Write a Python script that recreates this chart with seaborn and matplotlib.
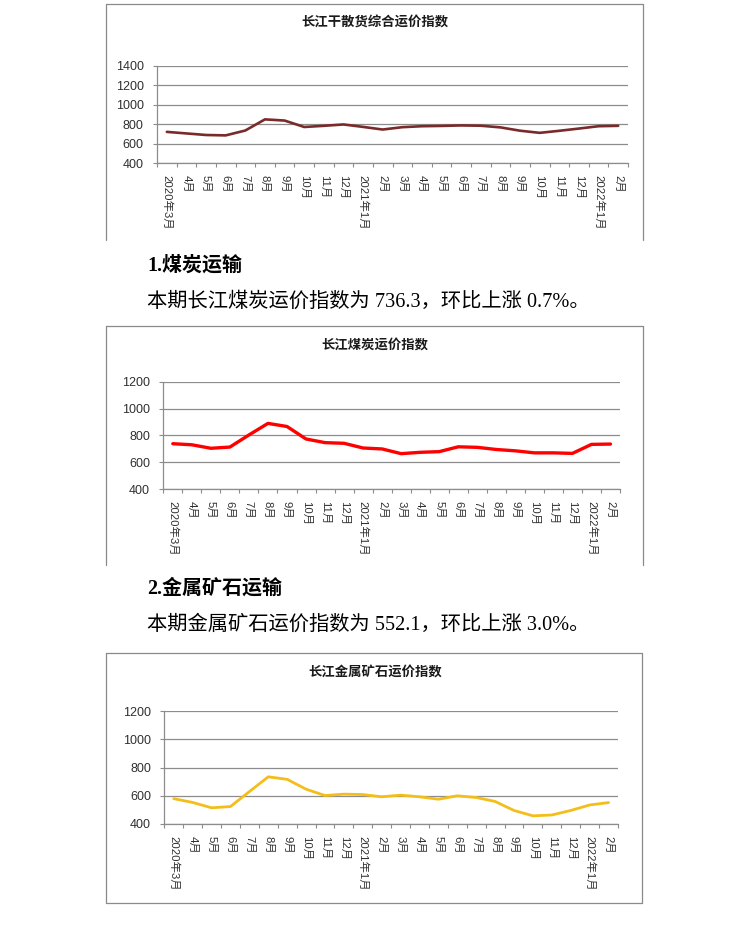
import matplotlib
matplotlib.use("Agg")
import matplotlib.pyplot as plt
import seaborn as sns
import pandas as pd
from matplotlib.lines import Line2D

# ---------------- data ----------------
months = ["2020年3月", "4月", "5月", "6月", "7月", "8月", "9月", "10月", "11月", "12月",
          "2021年1月", "2月", "3月", "4月", "5月", "6月", "7月", "8月", "9月", "10月",
          "11月", "12月", "2022年1月", "2月"]

dry_bulk = [722, 706, 690, 686, 736, 850, 838, 772, 784, 798, 773, 746,
            770, 780, 783, 788, 785, 768, 734, 712, 733, 756, 780, 784]
coal = [739, 731, 705, 714, 804, 890, 867, 774, 747, 742, 707, 700,
        665, 675, 680, 716, 712, 696, 686, 671, 671, 667, 734, 736.3]
ore = [580, 553, 515, 524, 630, 735, 717, 647, 602, 612, 609, 593,
       605, 593, 576, 600, 588, 560, 496, 458, 464, 496, 535, 552.1]

titles = ["长江干散货综合运价指数", "长江煤炭运价指数", "长江金属矿石运价指数"]
heading1 = "1.煤炭运输"
body1 = "本期长江煤炭运价指数为 736.3，环比上涨 0.7%。"
heading2 = "2.金属矿石运输"
body2 = "本期金属矿石运价指数为 552.1，环比上涨 3.0%。"

# ---------------- style ----------------
sns.set_theme(style="white")
plt.rcParams["font.family"] = ["Liberation Sans", "Noto Sans CJK SC", "DejaVu Sans"]
plt.rcParams["axes.unicode_minus"] = False

W, H = 734, 949
fig = plt.figure(figsize=(W / 100, H / 100), dpi=100)
fig.patch.set_facecolor("white")

GRAY = "#8c8c8c"
BORDER = "#8a8a8a"
TXT = "#303030"


def fx(x):
    return x / W


def fy(y):
    return 1 - y / H


def add_box(x0, y0, x1, y1, bottom=True):
    segs = [((x0, x0), (y0, y1)), ((x0, x1), (y0, y0)), ((x1, x1), (y0, y1))]
    if bottom:
        segs.append(((x0, x1), (y1, y1)))
    for xs, ys in segs:
        fig.add_artist(Line2D([fx(v) for v in xs], [fy(v) for v in ys],
                              color=BORDER, lw=0.9))


def draw_chart(title, values, color, lw, box, plot, ymax, title_y, bottom=True):
    add_box(*box, bottom=bottom)
    px0, py_top, px1, py_bot = plot
    ax = fig.add_axes([fx(px0), fy(py_bot), (px1 - px0) / W, (py_bot - py_top) / H])
    df = pd.DataFrame({"idx": list(range(len(months))), "value": values})
    sns.lineplot(data=df, x="idx", y="value", ax=ax, color=color, linewidth=lw,
                 solid_joinstyle="round", solid_capstyle="round", zorder=3)
    n = len(months)
    ax.set_xlim(-0.5, n - 0.5)
    ax.set_ylim(400, ymax)
    ax.set_yticks(list(range(400, ymax + 1, 200)))
    ax.yaxis.grid(True, color=GRAY, lw=0.9)
    ax.xaxis.grid(False)
    ax.set_axisbelow(True)
    ax.set_xticks(list(range(n)))
    ax.set_xticklabels(months, rotation=-90, ha="center", va="top",
                       fontsize=8.2, color=TXT)
    ax.set_xticks([i - 0.5 for i in range(n + 1)], minor=True)
    ax.tick_params(axis="x", which="major", length=0, pad=8.5)
    ax.tick_params(axis="x", which="minor", length=3, width=0.8, color=GRAY,
                   direction="out", bottom=True)
    ax.tick_params(axis="y", which="major", length=3, width=0.8, color=GRAY,
                   direction="out", left=True, pad=6.5, labelsize=9, labelcolor=TXT)
    for s in ["top", "right"]:
        ax.spines[s].set_visible(False)
    for s in ["left", "bottom"]:
        ax.spines[s].set_color(GRAY)
        ax.spines[s].set_linewidth(0.9)
    ax.set_xlabel("")
    ax.set_ylabel("")
    ax.patch.set_alpha(0)
    fig.text(fx(375), fy(title_y), title, ha="center", va="center",
             fontsize=9.6, weight="bold", color="#1a1a1a",
             family=["Noto Sans CJK SC", "DejaVu Sans"])
    return ax


draw_chart(titles[0], dry_bulk, "#7A2A2A", 1.9,
           (106, 4, 643, 240), (157, 65.7, 628, 163.3), 1400, 23, bottom=False)
draw_chart(titles[1], coal, "#FF0000", 2.4,
           (106, 326, 643, 565), (163.3, 381.7, 620, 489.3), 1200, 345, bottom=False)
draw_chart(titles[2], ore, "#F4BE1A", 2.0,
           (106, 653, 642, 903), (164.3, 711.3, 618, 824), 1200, 673, bottom=True)

serif = ["Liberation Serif", "Noto Sans CJK SC", "DejaVu Sans"]
fig.text(fx(147), fy(266), heading1, ha="left", va="center", fontsize=14.4,
         weight="bold", color="black", family=serif)
fig.text(fx(147), fy(302), body1, ha="left", va="center", fontsize=14.6,
         color="black", family=serif)
fig.text(fx(147), fy(589), heading2, ha="left", va="center", fontsize=14.4,
         weight="bold", color="black", family=serif)
fig.text(fx(147), fy(625), body2, ha="left", va="center", fontsize=14.6,
         color="black", family=serif)

fig.savefig("out.png", dpi=100, facecolor="white")
